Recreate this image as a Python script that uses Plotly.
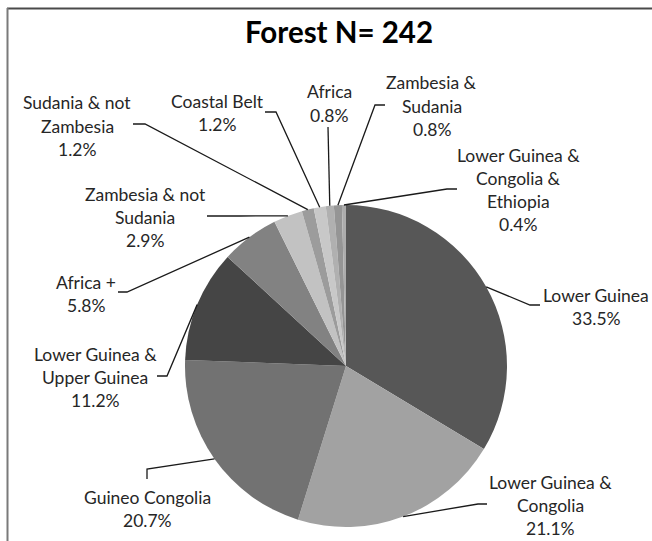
import math
import plotly.graph_objects as go

# ---------------- data ----------------
categories = [
    "Lower Guinea",
    "Lower Guinea &<br>Congolia",
    "Guineo Congolia",
    "Lower Guinea &<br>Upper Guinea",
    "Africa +",
    "Zambesia & not<br>Sudania",
    "Sudania & not<br>Zambesia",
    "Coastal Belt",
    "Africa",
    "Zambesia &<br>Sudania",
    "Lower Guinea &<br>Congolia &<br>Ethiopia",
]
percent_values = [33.5, 21.1, 20.7, 11.2, 5.8, 2.9, 1.2, 1.2, 0.8, 0.8, 0.4]
percent_labels = ["33.5%", "21.1%", "20.7%", "11.2%", "5.8%", "2.9%", "1.2%", "1.2%", "0.8%", "0.8%", "0.4%"]
slice_colors = ["#575757", "#a2a2a2", "#727272", "#454545", "#828282", "#c2c2c2",
                "#9c9c9c", "#c8c8c8", "#b0b0b0", "#959595", "#acacac"]
title_text = "Forest N= 242"

# ---------------- layout helpers (pixel geometry) ----------------
W, H = 652, 541
CX, CY, R = 346, 366, 161


def px(x):
    return x / W


def py(y):
    return 1 - y / H


# label placement: (center x, first line y) and leader path (label side points)
label_pos = [
    (596, 295), (550, 482), (147, 497), (95, 354), (86, 282), (145, 194),
    (77, 103), (217, 101), (329, 92), (432, 83), (518, 155),
]
leader_pts = [
    [(540, 305), (530, 305)],
    [(487, 504), (478, 504)],
    [(147, 479), (147, 469)],
    [(157, 376), (167, 376)],
    [(118, 292), (127, 292)],
    [(207, 216), (240, 216)],
    [(133, 124), (145, 124)],
    [(265, 112), (276, 112)],
    [(328, 127)],
    [(385, 105), (375, 105)],
    [(457, 189), (447, 189)],
]
LINE_SP = 23.3

fig = go.Figure()
fig.add_trace(go.Pie(
    labels=[c.replace("<br>", " ") for c in categories],
    values=percent_values,
    sort=False,
    direction="clockwise",
    rotation=0,
    marker=dict(colors=slice_colors, line=dict(width=0)),
    textinfo="none",
    hoverinfo="skip",
    showlegend=False,
    domain=dict(x=[px(CX - R), px(CX + R)], y=[py(CY + R), py(CY - R)]),
))

annotations = []
shapes = []
total = sum(percent_values)
cum = 0.0
for cat, pl, val, (lx, ly), pts in zip(categories, percent_labels, percent_values, label_pos, leader_pts):
    mid = (cum + val / 2) / total * 2 * math.pi
    cum += val
    ex = CX + R * math.sin(mid)
    ey = CY - R * math.cos(mid)
    lines = cat.split("<br>") + [pl]
    for i, t in enumerate(lines):
        annotations.append(dict(
            x=px(lx), y=py(ly + i * LINE_SP), xref="paper", yref="paper",
            text=t, showarrow=False, xanchor="center", yanchor="middle",
            font=dict(family="Lato", size=17.5, color="#262626"),
        ))
    allp = pts + [(ex, ey)]
    path = "M " + " L ".join(f"{px(x)},{py(y)}" for x, y in allp)
    shapes.append(dict(type="path", path=path, xref="paper", yref="paper",
                       line=dict(color="#1a1a1a", width=1.3)))

annotations.append(dict(
    x=px(339), y=py(32), xref="paper", yref="paper", text=f"<b>{title_text}</b>",
    showarrow=False, xanchor="center", yanchor="middle",
    font=dict(family="Lato", size=29.5, color="#000000"),
))

# chart frame (top and left edges visible)
shapes.append(dict(type="line", xref="paper", yref="paper", x0=px(7), y0=py(8.5), x1=px(652), y1=py(8.5),
                   line=dict(color="#4a4a4a", width=2)))
shapes.append(dict(type="line", xref="paper", yref="paper", x0=px(7.5), y0=py(8), x1=px(7.5), y1=py(541),
                   line=dict(color="#7a7a7a", width=2)))

fig.update_layout(
    width=W, height=H,
    margin=dict(l=0, r=0, t=0, b=0),
    paper_bgcolor="white", plot_bgcolor="white",
    annotations=annotations, shapes=shapes,
)

fig.write_html(
    "out.html",
    config={"displayModeBar": False},
    post_script="document.body.style.margin='0';document.body.style.overflow='hidden';",
)
